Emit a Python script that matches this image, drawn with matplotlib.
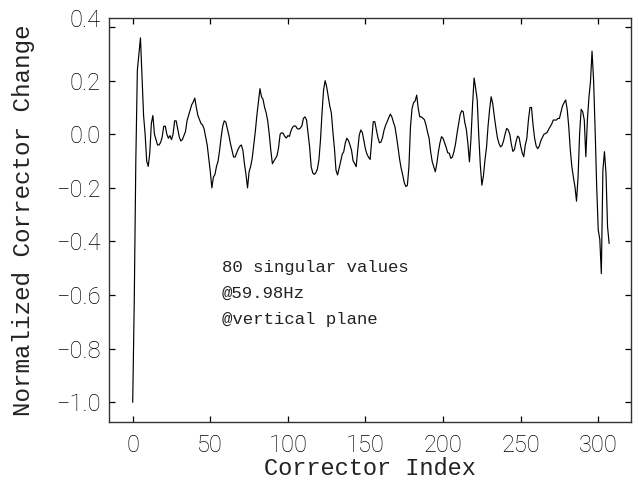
import matplotlib
matplotlib.use("Agg")
import matplotlib.pyplot as plt
import matplotlib.transforms as mtransforms
import numpy as np

# normalized corrector change, one value per corrector index
change = [
    -1.0, -0.62, -0.10, 0.24, 0.30, 0.36, 0.22, 0.07, 0.00, -0.10,
    -0.12, -0.07, 0.04, 0.07, 0.00, -0.02, -0.04, -0.04, -0.03, -0.01,
    0.03, 0.03, 0.00, -0.015, -0.005, -0.02, 0.00, 0.05, 0.05, 0.02,
    -0.01, -0.025, -0.02, -0.005, 0.01, 0.05, 0.07, 0.09, 0.11, 0.12,
    0.135, 0.10, 0.07, 0.055, 0.04, 0.035, 0.02, -0.01, -0.04, -0.09,
    -0.14, -0.20, -0.16, -0.15, -0.12, -0.10, -0.06, -0.01, 0.03, 0.05,
    0.045, 0.02, -0.005, -0.035, -0.06, -0.085, -0.085, -0.07, -0.055, -0.045,
    -0.04, -0.06, -0.11, -0.15, -0.20, -0.14, -0.12, -0.09, -0.04, 0.01,
    0.07, 0.12, 0.17, 0.14, 0.13, 0.10, 0.08, 0.05, 0.00, -0.06,
    -0.11, -0.10, -0.09, -0.08, -0.05, 0.00, 0.006, 0.003, -0.008, -0.014,
    -0.005, -0.008, 0.013, 0.026, 0.031, 0.031, 0.021, 0.019, 0.023, 0.031,
    0.059, 0.065, 0.054, 0.003, -0.047, -0.121, -0.144, -0.150, -0.144, -0.130,
    -0.096, -0.022, 0.080, 0.165, 0.200, 0.177, 0.142, 0.105, 0.080, 0.009,
    -0.053, -0.134, -0.152, -0.127, -0.102, -0.075, -0.065, -0.032, -0.015, -0.023,
    -0.040, -0.059, -0.099, -0.109, -0.121, -0.059, -0.003, 0.016, 0.006, -0.024,
    -0.056, -0.075, -0.086, -0.094, -0.022, 0.047, 0.047, 0.018, -0.012, -0.032,
    -0.029, -0.012, 0.016, 0.034, 0.047, 0.062, 0.075, 0.065, 0.045, 0.028,
    -0.009, -0.050, -0.094, -0.127, -0.152, -0.181, -0.195, -0.191, -0.121, 0.028,
    0.096, 0.118, 0.124, 0.146, 0.096, 0.065, 0.065, 0.060, 0.054, 0.034,
    0.008, -0.015, -0.065, -0.102, -0.121, -0.140, -0.109, -0.065, -0.032, -0.009,
    -0.015, -0.032, -0.049, -0.069, -0.071, -0.090, -0.085, -0.065, -0.037, 0.003,
    0.038, 0.073, 0.088, 0.084, 0.044, 0.018, -0.034, -0.103, -0.015, 0.109,
    0.210, 0.171, 0.128, -0.003, -0.115, -0.190, -0.156, -0.096, -0.049, 0.031,
    0.093, 0.140, 0.115, 0.068, 0.026, -0.012, -0.034, -0.047, -0.042, -0.024,
    0.001, 0.022, 0.016, 0.000, -0.037, -0.064, -0.057, -0.028, -0.007, -0.012,
    -0.044, -0.069, -0.084, -0.040, -0.015, 0.053, 0.100, 0.100, 0.034, -0.015,
    -0.044, -0.054, -0.044, -0.024, -0.012, 0.000, 0.003, 0.006, 0.018, 0.028,
    0.038, 0.053, 0.053, 0.053, 0.059, 0.059, 0.084, 0.106, 0.118, 0.128,
    0.093, 0.028, -0.059, -0.121, -0.161, -0.196, -0.250, -0.159, 0.003, 0.093,
    0.084, 0.053, -0.084, 0.053, 0.138, 0.196, 0.310, 0.202, 0.016, -0.196,
    -0.357, -0.392, -0.520, -0.134, -0.065, -0.146, -0.345, -0.407,
]
index = np.arange(len(change))

x_ticks = [0, 50, 100, 150, 200, 250, 300]
y_ticks = [-1.0, -0.8, -0.6, -0.4, -0.2, 0.0, 0.2, 0.4]
note = "80 singular values\n@59.98Hz\n@vertical plane"

mono = "Liberation Mono"

fig = plt.figure(figsize=(6.38, 4.82), dpi=100)
ax = fig.add_axes([0.1708, 0.1245, 0.8182, 0.8382])

ax.plot(index, change, color="black", linewidth=0.85)

ax.set_xlim(-15.3, 321.1)
ax.set_ylim(-1.074, 0.434)
ax.set_xticks(x_ticks)
ax.set_yticks(y_ticks)
ax.set_yticklabels([("%.1f" % v).replace("-", "\u2212") for v in y_ticks])

ax.tick_params(direction="in", length=4.5, width=0.9, top=True, right=True,
               colors="black")
ax.tick_params(axis="x", pad=9)
ax.tick_params(axis="y", pad=6)
for lab in ax.get_xticklabels() + ax.get_yticklabels():
    lab.set_fontfamily(["Roboto", "DejaVu Sans"])
    lab.set_fontweight("light")
    lab.set_fontsize(17)
for sp in ax.spines.values():
    sp.set_linewidth(1.0)
    sp.set_color("#333333")

# the top label sits a bit above its tick in the original
top_lab = ax.get_yticklabels()[-1]
top_lab.set_transform(top_lab.get_transform() +
                      mtransforms.ScaledTranslation(0, 6.5 / 72, fig.dpi_scale_trans))

ax.set_xlabel("Corrector Index", fontfamily=mono, fontsize=17, labelpad=0,
              color="#222222")
ax.set_ylabel("Normalized Corrector Change", fontfamily=mono, fontsize=17.5,
              labelpad=15, color="#222222")

ax.text(57.5, -0.469, note, fontfamily=mono, fontsize=12.5, va="top", ha="left",
        linespacing=1.9, color="#222222")

fig.savefig("out.png", dpi=100)
